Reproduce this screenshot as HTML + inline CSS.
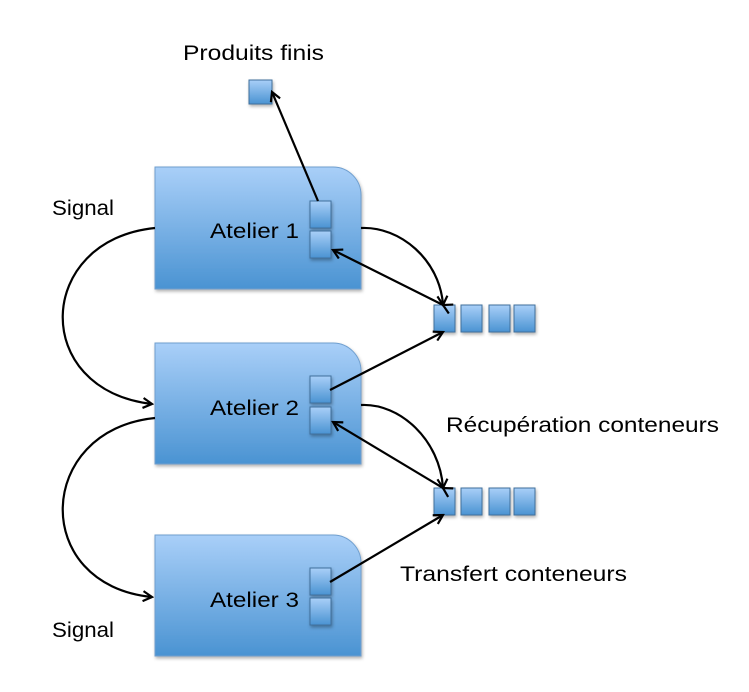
<!DOCTYPE html>
<html><head><style>body{margin:0;background:#fff}svg{display:block}</style></head><body>
<svg width="749" height="692" xmlns="http://www.w3.org/2000/svg" font-family="Liberation Sans, sans-serif">
<defs>
<linearGradient id="g" x1="0" y1="0" x2="0" y2="1"><stop offset="0" stop-color="#a9cff8"/><stop offset="1" stop-color="#4a93d2"/></linearGradient>
<filter id="s" x="-10%" y="-10%" width="130%" height="130%"><feDropShadow dx="1" dy="2" stdDeviation="1.5" flood-opacity="0.3"/></filter>
<marker id="a" markerWidth="12" markerHeight="12" refX="10" refY="6" orient="auto" markerUnits="userSpaceOnUse"><path d="M1,1 L10,6 L1,11" fill="none" stroke="#000" stroke-width="2.2"/></marker>
<g id="sq"><rect width="21" height="27" fill="url(#g)" stroke="#3f6f9c" stroke-width="1"/></g>
</defs>
<g fill="url(#g)" stroke="#6f9fcf" stroke-width="1" filter="url(#s)">
<path d="M155,167 H333 A28,28 0 0 1 361,195 V289 H155 Z"/>
<path d="M155,343 H333 A28,28 0 0 1 361,371 V464 H155 Z"/>
<path d="M155,535 H333 A28,28 0 0 1 361,563 V656 H155 Z"/>
</g>
<g filter="url(#s)">
<use href="#sq" x="310" y="201"/><use href="#sq" x="310" y="231"/>
<use href="#sq" x="310" y="376"/><use href="#sq" x="310" y="407"/>
<use href="#sq" x="310" y="568"/><use href="#sq" x="310" y="598"/>
<rect x="249" y="80" width="23" height="24" fill="url(#g)" stroke="#3f6f9c"/>
<use href="#sq" x="434" y="305"/><use href="#sq" x="461" y="305"/><use href="#sq" x="489" y="305"/><use href="#sq" x="514" y="305"/>
<use href="#sq" x="434" y="488"/><use href="#sq" x="461" y="488"/><use href="#sq" x="489" y="488"/><use href="#sq" x="514" y="488"/>
</g>
<g fill="none" stroke="#000" stroke-width="2.2">
<path d="M318,201 L272,92" marker-end="url(#a)"/>
<path d="M361,228 C400,226 440,260 443,305" marker-end="url(#a)"/>
<path d="M443,305 L333,250" marker-end="url(#a)" marker-start="url(#a)"/>
<path d="M330,390 L443,332" marker-end="url(#a)"/>
<path d="M361,405 C400,403 440,440 443,488" marker-end="url(#a)"/>
<path d="M443,488 L333,422" marker-end="url(#a)" marker-start="url(#a)"/>
<path d="M330,582 L443,515" marker-end="url(#a)"/>
<path d="M155,228 C35,240 30,390 152,404" marker-end="url(#a)"/>
<path d="M155,418 C35,430 30,585 152,597" marker-end="url(#a)"/>
</g>
<g font-size="21" fill="#000" lengthAdjust="spacingAndGlyphs">
<text x="210" y="238" textLength="89" lengthAdjust="spacingAndGlyphs">Atelier 1</text>
<text x="210" y="415" textLength="89" lengthAdjust="spacingAndGlyphs">Atelier 2</text>
<text x="210" y="607" textLength="89" lengthAdjust="spacingAndGlyphs">Atelier 3</text>
<text x="183" y="60" textLength="141" lengthAdjust="spacingAndGlyphs">Produits finis</text>
<text x="52" y="215" textLength="62" lengthAdjust="spacingAndGlyphs">Signal</text>
<text x="52" y="637" textLength="62" lengthAdjust="spacingAndGlyphs">Signal</text>
<text x="446" y="432" textLength="273" lengthAdjust="spacingAndGlyphs">Récupération conteneurs</text>
<text x="400" y="581" textLength="227" lengthAdjust="spacingAndGlyphs">Transfert conteneurs</text>
</g>
</svg>
</body></html>
